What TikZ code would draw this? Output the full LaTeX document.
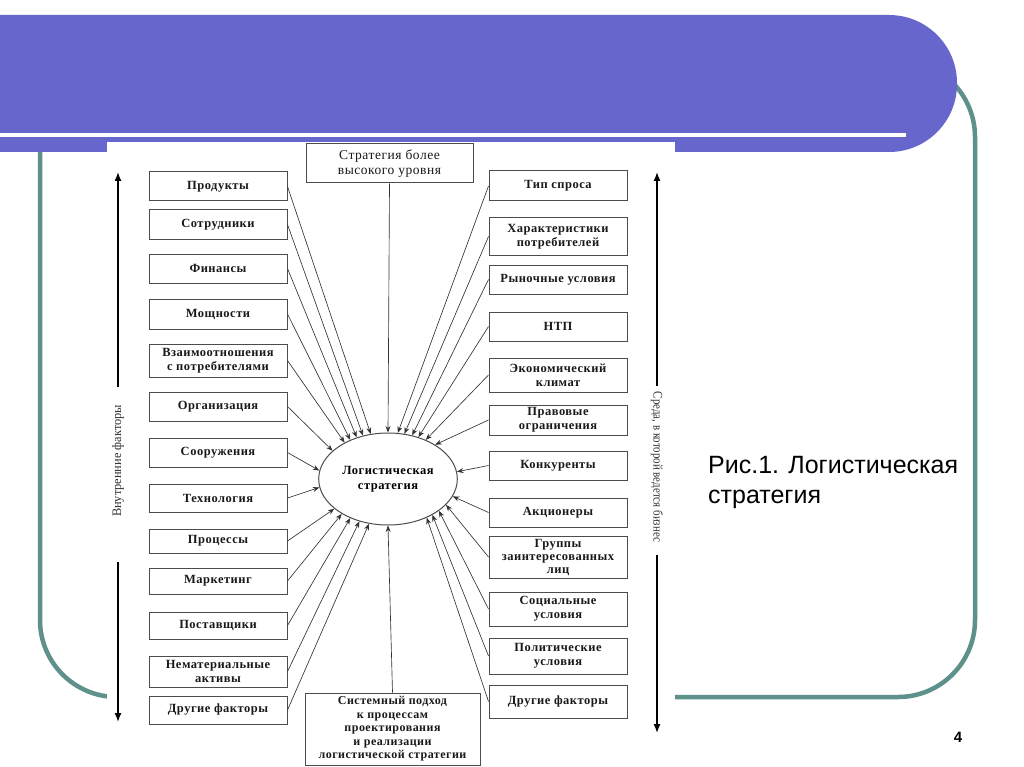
\documentclass[tikz,border=0pt]{standalone}
\usepackage{fontspec}
\setmainfont{Liberation Serif}
\newfontfamily\boxfont[LetterSpace=4]{Liberation Serif}
\newfontfamily\sidefont{Liberation Serif}
\newfontfamily\capfont{Liberation Sans}
\usetikzlibrary{shapes.geometric,arrows.meta}
\definecolor{banner}{RGB}{102,102,204}
\definecolor{teal}{RGB}{95,145,140}
\tikzset{
  fbox/.style={draw=black!70, line width=1pt, minimum width=138pt, align=center,
    font=\boxfont\bfseries\fontsize{12.5}{13.8}\selectfont, inner sep=1pt, text=black!90},
  conn/.style={draw=black!80, line width=0.65pt, -{Stealth[length=6.5pt,width=5pt]}},
  side/.style={line width=1.4pt, -{Latex[length=9pt,width=7pt]}},
}
\begin{document}
\begin{tikzpicture}[x=1pt,y=-1pt]
\useasboundingbox (0,0) rectangle (1024,767);
\fill[white] (0,0) rectangle (1024,767);
% slide frame
\draw[teal, line width=4.5pt, rounded corners=77pt] (40,60) rectangle (975,697);
\fill[banner, rounded corners=68pt] (-80,15) rectangle (957,152);
\fill[white] (0,133) rectangle (906,137);
% diagram area
\fill[white] (107,142) rectangle (675,767);
% left boxes
\node[fbox, minimum height=29pt] (l1) at (218,186.5) {Продукты};
\node[fbox, minimum height=29pt] (l2) at (218,224.5) {Сотрудники};
\node[fbox, minimum height=29pt] (l3) at (218,268.5) {Финансы};
\node[fbox, minimum height=30pt] (l4) at (218,314) {Мощности};
\node[fbox, minimum height=33pt] (l5) at (218,360.5) {Взаимоотношения\\с потребителями};
\node[fbox, minimum height=29pt] (l6) at (218,406.5) {Организация};
\node[fbox, minimum height=29pt] (l7) at (218,452.5) {Сооружения};
\node[fbox, minimum height=28pt] (l8) at (218,498) {Технология};
\node[fbox, minimum height=24pt] (l9) at (218,541) {Процессы};
\node[fbox, minimum height=26pt] (l10) at (218,581) {Маркетинг};
\node[fbox, minimum height=27pt] (l11) at (218,625.5) {Поставщики};
\node[fbox, minimum height=31pt] (l12) at (218,671.5) {Нематериальные\\активы};
\node[fbox, minimum height=28pt] (l13) at (218,710) {Другие факторы};
% right boxes
\node[fbox, minimum height=30pt] (r1) at (558,186) {Тип спроса};
\node[fbox, minimum height=37pt] (r2) at (558,236.5) {Характеристики\\потребителей};
\node[fbox, minimum height=29pt] (r3) at (558,279.5) {Рыночные условия};
\node[fbox, minimum height=29pt] (r4) at (558,326.5) {НТП};
\node[fbox, minimum height=34pt] (r5) at (558,375) {Экономический\\климат};
\node[fbox, minimum height=30pt] (r6) at (558,420) {Правовые\\ограничения};
\node[fbox, minimum height=29pt] (r7) at (558,465.5) {Конкуренты};
\node[fbox, minimum height=29pt] (r8) at (558,512.5) {Акционеры};
\node[fbox, minimum height=42pt, font=\boxfont\bfseries\fontsize{12.5}{13}\selectfont] (r9) at (558,557) {Группы\\заинтересованных\\лиц};
\node[fbox, minimum height=34pt] (r10) at (558,609) {Социальные\\условия};
\node[fbox, minimum height=36pt] (r11) at (558,656) {Политические\\условия};
\node[fbox, minimum height=33pt] (r12) at (558,701.5) {Другие факторы};
% top and bottom boxes
\node[fbox, minimum width=167pt, minimum height=39pt, font=\boxfont\fontsize{13.5}{15}\selectfont] (top) at (389.5,163.5) {Стратегия более\\высокого уровня};
\node[fbox, minimum width=175pt, minimum height=72pt, font=\boxfont\bfseries\fontsize{12}{13.5}\selectfont] (bot) at (392.5,729) {Системный подход\\к процессам\\проектирования\\и реализации\\логистической стратегии};
% center
\node[ellipse, draw=black!70, line width=1pt, minimum width=136pt, minimum height=92pt, align=center,
  font=\boxfont\bfseries\fontsize{12.5}{15}\selectfont] (E) at (388,479) {Логистическая\\стратегия};
% connectors
\draw[conn] (top.south) -- (E.90);
\draw[conn] (bot.north) -- (E.270);
\draw[conn] (l1.east) -- (E.111);
\draw[conn] (l2.east) -- (E.120);
\draw[conn] (l3.east) -- (E.127);
\draw[conn] (l4.east) -- (E.134);
\draw[conn] (l5.east) -- (E.140);
\draw[conn] (l6.east) -- (E.153);
\draw[conn] (l7.east) -- (E.173);
\draw[conn] (l8.east) -- (E.187);
\draw[conn] (l9.east) -- (E.209);
\draw[conn] (l10.east) -- (E.217);
\draw[conn] (l11.east) -- (E.226);
\draw[conn] (l12.east) -- (E.236);
\draw[conn] (l13.east) -- (E.247);
\draw[conn] (r1.west) -- (E.78);
\draw[conn] (r2.west) -- (E.70);
\draw[conn] (r3.west) -- (E.61);
\draw[conn] (r4.west) -- (E.54);
\draw[conn] (r5.west) -- (E.46);
\draw[conn] (r6.west) -- (E.36);
\draw[conn] (r7.west) -- (E.6);
\draw[conn] (r8.west) -- (E.-15);
\draw[conn] (r9.west) -- (E.-24);
\draw[conn] (r10.west) -- (E.-32);
\draw[conn] (r11.west) -- (E.-39);
\draw[conn] (r12.west) -- (E.-45);
% side arrows and labels
\coordinate (la1) at (118,387); \coordinate (la2) at (118,172);
\coordinate (la3) at (118,562); \coordinate (la4) at (118,722);
\draw[side] (la1) -- (la2);
\draw[side] (la3) -- (la4);
\node[rotate=90, font=\sidefont\fontsize{13}{15}\selectfont, text=black!80] (ltext) at (118,461) {\scalebox{0.95}[1]{Внутренние факторы}};
\coordinate (ra1) at (657,386); \coordinate (ra2) at (657,172);
\coordinate (ra3) at (657,555); \coordinate (ra4) at (657,733);
\draw[side] (ra1) -- (ra2);
\draw[side] (ra3) -- (ra4);
\node[rotate=-90, font=\sidefont\fontsize{13}{15}\selectfont, text=black!80] (rtext) at (657,467) {\scalebox{0.84}[1]{Среда, в которой ведется бизнес}};
% caption
\node[anchor=base west, align=left, inner sep=0pt, font=\capfont\fontsize{25}{30}\selectfont] (cap) at (708,503) {Рис.1. Логистическая\\стратегия};
\node[font=\capfont\bfseries\fontsize{15}{18}\selectfont] (num) at (958,737) {4};
\end{tikzpicture}
\end{document}
